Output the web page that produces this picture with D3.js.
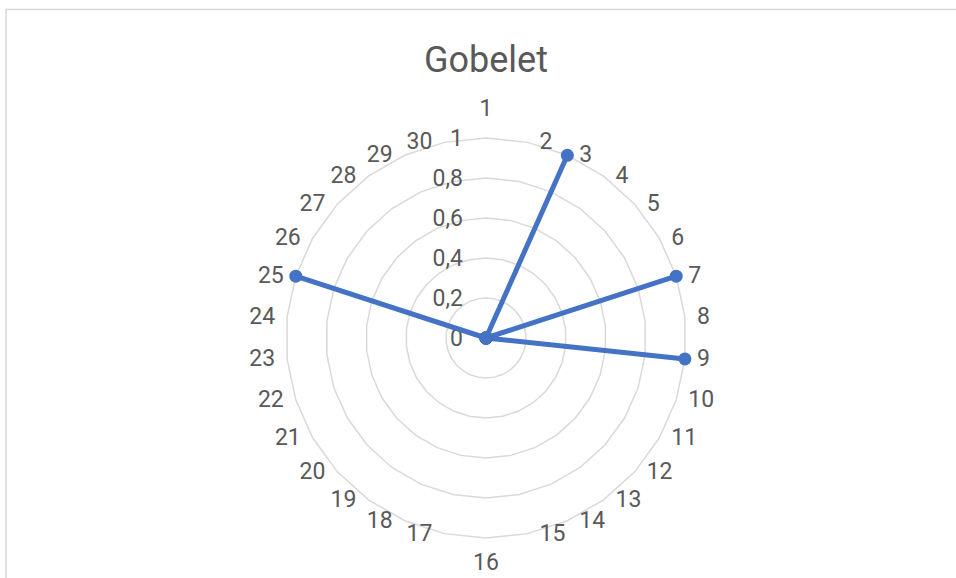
<!DOCTYPE html>
<html>
<head>
<meta charset="utf-8">
<script src="https://cdn.jsdelivr.net/npm/d3@7"></script>
<style>
  body { margin: 0; background: #fff; }
  svg { font-family: Roboto, "Noto Sans", sans-serif; }
</style>
</head>
<body>
<div id="radar"></div>
<script>
// categories 1..30 around the circle
var categories = ["1","2","3","4","5","6","7","8","9","10","11","12","13","14","15",
                  "16","17","18","19","20","21","22","23","24","25","26","27","28","29","30"];
var values = [0,0,1,0,0,0,1,0,1,0,0,0,0,0,0,0,0,0,0,0,0,0,0,0,1,0,0,0,0,0];
var tickValues = [0, 0.2, 0.4, 0.6, 0.8, 1];
var tickLabels = ["0", "0,2", "0,4", "0,6", "0,8", "1"];

var W = 956, H = 578,
    cx = 486, cy = 338, R = 200;

var svg = d3.select("#radar")
  .append("svg")
    .attr("width", W)
    .attr("height", H);

// chart area border (runs off the right and bottom)
svg.append("rect")
  .attr("x", 6).attr("y", 9.5)
  .attr("width", 1000).attr("height", 700)
  .attr("fill", "none")
  .attr("stroke", "#d9d9d9")
  .attr("stroke-width", 1.5);

svg.append("text")
  .attr("x", cx)
  .attr("y", 72)
  .style("text-anchor", "middle")
  .style("font-size", "36px")
  .style("fill", "#595959")
  .text("Gobelet");

var g = svg.append("g")
  .attr("transform", "translate(" + cx + "," + cy + ")");

var r = d3.scaleLinear().domain([0, 1]).range([0, R]);
var angle = d3.scaleBand()
  .domain(categories)
  .range([0, 2 * Math.PI])
  .padding(0);

// grid rings
var ring = d3.lineRadial()
  .angle(function(d) { return angle(d); })
  .curve(d3.curveLinearClosed);

tickValues.slice(1).forEach(function(t) {
  g.append("path")
    .attr("d", ring.radius(r(t))(categories))
    .attr("fill", "none")
    .attr("stroke", "#d9d9d9")
    .attr("stroke-width", 1.5);
});

// value axis labels
g.selectAll(".vlab")
  .data(tickValues)
  .enter()
  .append("text")
    .attr("x", -23)
    .attr("y", function(d) { return -r(d); })
    .attr("dy", "0.35em")
    .style("text-anchor", "end")
    .style("font-size", "23px")
    .style("fill", "#595959")
    .text(function(d, i) { return tickLabels[i]; });

// category labels
g.selectAll(".clab")
  .data(categories)
  .enter()
  .append("text")
    .each(function(d) {
      var a = angle(d), s = Math.sin(a), c = Math.cos(a);
      var px = R * s, py = -R * c;
      var el = d3.select(this);
      if (Math.abs(s) < 0.01) {
        el.attr("x", px).attr("y", c > 0 ? py - 30 : py + 24).style("text-anchor", "middle");
      } else {
        el.attr("x", px + (s > 0 ? 12 : -12)).attr("y", py - 1)
          .style("text-anchor", s > 0 ? "start" : "end");
      }
    })
    .attr("dy", "0.35em")
    .style("font-size", "23px")
    .style("fill", "#595959")
    .text(function(d) { return d; });

// series
var pts = categories.map(function(c, i) { return { c: c, v: values[i] }; });

g.append("path")
  .attr("d", d3.lineRadial()
    .angle(function(d) { return angle(d.c); })
    .radius(function(d) { return r(d.v); })
    .curve(d3.curveLinearClosed)(pts))
  .attr("fill", "none")
  .attr("stroke", "#4472c4")
  .attr("stroke-width", 5)
  .attr("stroke-linejoin", "round");

g.selectAll(".dot")
  .data(pts)
  .enter()
  .append("circle")
    .attr("cx", function(d) { return r(d.v) * Math.sin(angle(d.c)); })
    .attr("cy", function(d) { return -r(d.v) * Math.cos(angle(d.c)); })
    .attr("r", 6.5)
    .attr("fill", "#4472c4");
</script>
</body>
</html>
